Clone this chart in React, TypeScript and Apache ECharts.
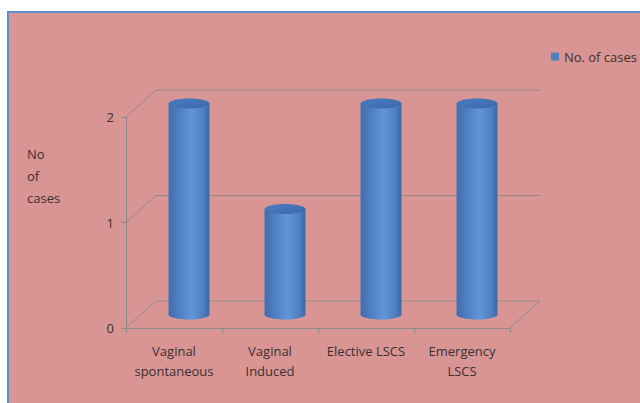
import React, { useEffect, useRef } from "react";
import * as echarts from "echarts";

const categories = ["Vaginal\nspontaneous", "Vaginal\nInduced", "Elective LSCS", "Emergency\nLSCS"];
const cases = [2, 1, 2, 2];
const yTicks = [0, 1, 2];
const seriesName = "No. of cases";
const yAxisName = "No\nof\ncases";

const DX = 30;
const DY = -27;
const FONT = "'Open Sans', 'Liberation Sans', sans-serif";

export default function App() {
  const ref = useRef<HTMLDivElement>(null);
  useEffect(() => {
    if (!ref.current) return;
    const chart = echarts.init(ref.current, null, { renderer: "svg" });
    const bodyGrad = () =>
      new echarts.graphic.LinearGradient(0, 0, 1, 0, [
        { offset: 0, color: "#3E6DB0" },
        { offset: 0.55, color: "#6196D8" },
        { offset: 0.85, color: "#4E80C4" },
        { offset: 1, color: "#3A66A4" },
      ]);
    const topGrad = () =>
      new echarts.graphic.LinearGradient(0, 0, 1, 1, [
        { offset: 0, color: "#4B7DC2" },
        { offset: 1, color: "#3B69AA" },
      ]);
    const option: any = {
      animation: false,
      backgroundColor: "#ffffff",
      graphic: [
        {
          type: "rect",
          z: -10,
          silent: true,
          shape: { x: 8, y: 12, width: 640, height: 400 },
          style: { fill: "#D99594", stroke: "#5B8CCB", lineWidth: 2 },
        },
        {
          type: "text",
          left: 27,
          top: 143,
          style: {
            text: yAxisName,
            font: `13px ${FONT}`,
            fill: "#3A3030",
            lineHeight: 22,
          },
        },
      ],
      legend: {
        data: [seriesName],
        right: 3,
        top: 50,
        padding: 0,
        itemWidth: 8,
        itemHeight: 8,
        icon: "rect",
        textStyle: { fontFamily: FONT, fontSize: 13, color: "#3A3030" },
      },
      grid: { left: 126, right: 130, top: 117, bottom: 75 },
      xAxis: {
        type: "category",
        data: categories,
        boundaryGap: true,
        axisLine: { show: true, lineStyle: { color: "#8E8A8A", width: 1 } },
        axisTick: { show: true, length: 5, alignWithLabel: false, lineStyle: { color: "#8E8A8A" } },
        axisLabel: {
          interval: 0,
          margin: 13,
          fontFamily: FONT,
          fontSize: 13,
          lineHeight: 20,
          color: "#3A3030",
        },
        splitLine: { show: false },
      },
      yAxis: {
        type: "value",
        min: 0,
        max: 2,
        interval: 1,
        axisLine: { show: true, lineStyle: { color: "#8E8A8A", width: 1 } },
        axisTick: { show: true, length: 5, lineStyle: { color: "#8E8A8A" } },
        axisLabel: { margin: 12, fontFamily: FONT, fontSize: 13, color: "#3A3030" },
        splitLine: { show: false },
      },
      series: [
        {
          name: "grid3d",
          type: "custom",
          silent: true,
          z: 1,
          data: yTicks.map((v) => [0, v]),
          renderItem: (params: any, api: any) => {
            const cs = params.coordSys;
            const v = api.value(1);
            const y = api.coord([0, v])[1];
            const L = cs.x;
            const R = cs.x + cs.width;
            const pts: number[][] = [
              [L, y],
              [L + DX, y + DY],
              [R + DX, y + DY],
            ];
            if (v === 0) pts.push([R, y]);
            return {
              type: "polyline",
              shape: { points: pts },
              style: { stroke: "#8E8A8A", lineWidth: 1, fill: "none" },
            };
          },
        },
        {
          name: seriesName,
          type: "custom",
          z: 5,
          itemStyle: { color: "#4F81BD" },
          data: cases.map((v, i) => [i, v]),
          renderItem: (params: any, api: any) => {
            const idx = api.value(0);
            const v = api.value(1);
            const top = api.coord([idx, v]);
            const base = api.coord([idx, 0]);
            const bw = api.size([1, 0])[0];
            const rx = bw * 0.213;
            const ry = 5;
            const cx = top[0] + DX / 2;
            const ty = top[1] + DY / 2;
            const by = base[1] + DY / 2;
            return {
              type: "group",
              children: [
                {
                  type: "ellipse",
                  shape: { cx, cy: by, rx, ry },
                  style: { fill: bodyGrad() },
                },
                {
                  type: "rect",
                  shape: { x: cx - rx, y: ty, width: rx * 2, height: by - ty },
                  style: { fill: bodyGrad() },
                },
                {
                  type: "ellipse",
                  shape: { cx, cy: ty, rx, ry },
                  style: { fill: topGrad() },
                },
              ],
            };
          },
        },
      ],
    };
    chart.setOption(option);
    return () => chart.dispose();
  }, []);
  return (
    <div
      ref={ref}
      style={{ position: "absolute", left: 0, top: 0, width: 640, height: 403 }}
    />
  );
}
